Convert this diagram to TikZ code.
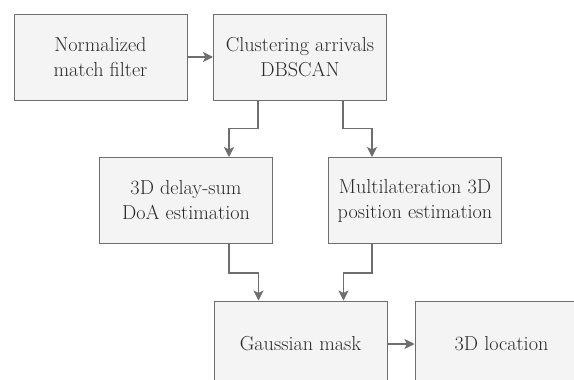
\documentclass[tikz,border=0pt]{standalone}
\usetikzlibrary{arrows.meta,calc}
\definecolor{boxfill}{HTML}{F4F4F4}
\definecolor{boxline}{HTML}{6E6E6E}
\definecolor{txt}{HTML}{2A2A2A}
\begin{document}
\begin{tikzpicture}[x=1pt,y=-1pt,
  block/.style={draw=boxline,fill=boxfill,line width=1pt,minimum width=173pt,minimum height=86pt,
    align=center,inner sep=0pt,text=txt,font=\fontsize{20.2}{25}\selectfont},
  arr/.style={draw=boxline,line width=1.1pt,-{Stealth[length=10pt,width=10pt,inset=2.5pt]}}]
\useasboundingbox (0,0) rectangle (574,380);
\clip (0,0) rectangle (574,380);
\fill[white] (0,0) rectangle (574,380);
\node[block] (b1) at (100.5,57) {Normalized\\match filter};
\node[block] (b2) at (300,57) {Clustering arrivals\\DBSCAN};
\node[block] (b3) at (186,200.5) {3D delay-sum\\DoA estimation};
\node[block] (b4) at (415,200.5) {Multilateration 3D\\position estimation};
\node[block] (b5) at (300.5,344) {Gaussian mask};
\node[block] (b6) at (501.5,344) {3D location};
\draw[arr] (b1.east) -- (b2.west);
\draw[arr] ([xshift=-42pt]b2.south) -- ++(0,28) -| ([xshift=43pt]b3.north);
\draw[arr] ([xshift=43pt]b2.south) -- ++(0,28) -| ([xshift=-43pt]b4.north);
\draw[arr] ([xshift=43pt]b3.south) -- ++(0,29) -| ([xshift=-42pt]b5.north);
\draw[arr] ([xshift=-43pt]b4.south) -- ++(0,29) -| ([xshift=43pt]b5.north);
\draw[arr] (b5.east) -- (b6.west);
\end{tikzpicture}
\end{document}
